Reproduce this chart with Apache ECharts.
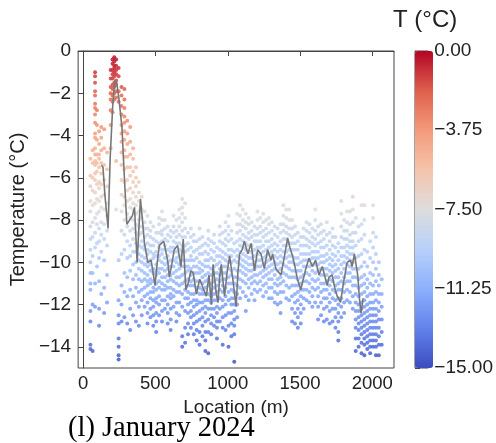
<!DOCTYPE html>
<html>
<head>
<meta charset="utf-8">
<script src="https://cdn.jsdelivr.net/npm/echarts@6/dist/echarts.min.js"></script>
<style>html,body{margin:0;padding:0;background:#fff;}#c{width:496px;height:443px;}</style>
</head>
<body>
<div id="c"></div>
<script>
// Measurement locations (m) of each column of scatter points
const locations = [50,65,82,95,110,125,145,165,190,203,215,228,245,265,285,305,325,345,365,385,405,425,
445,465,485,505,525,545,565,585,605,625,645,665,685,705,725,745,765,785,805,825,845,865,885,905,925,945,965,985,
1005,1025,1045,1065,1085,1105,1125,1145,1165,1185,1205,1225,1245,1265,1285,1305,1325,1345,1365,1385,1405,1425,
1445,1465,1485,1505,1525,1545,1565,1585,1605,1625,1645,1665,1685,1705,1725,1745,1765,1785,1805,1825,1845,1865,
1885,1905,1925,1945,1965,1985,2005,2025,2045,2065];
// Temperature readings (°C) at each location
const temps = [
[-5.1,-5.9,-6.4,-7.1,-7.6,-8.3,-8.9,-9.4,-10.0,-10.5,-11.0,-11.3,-12.3,-12.8,-13.9,-14.1],
[-4.7,-5.3,-6.0,-6.6,-7.3,-8.1,-8.8,-9.7,-10.5,-12.0,-14.2],
[-1.0,-1.2,-1.5,-1.9,-2.1,-2.5,-2.7,-3.0,-3.4,-3.9,-4.1,-4.6,-4.9,-5.2,-5.4,-5.8,-6.1,-6.7,-7.2,-7.9,-8.6,-9.3,-11.0,-12.1],
[-2.8,-3.5,-4.2,-4.9,-5.3,-5.7,-6.3,-7.0,-7.7,-8.2,-9.1,-10.2],
[-3.8,-4.4,-4.9,-5.1,-5.5,-6.2,-6.5,-7.1,-7.6,-8.4,-9.0,-9.8,-10.9,-12.2,-13.0],
[-3.6,-4.1,-4.7,-5.3,-5.8,-6.3,-6.9,-7.4,-8.1,-8.7,-9.5,-11.5],
[-3.7,-4.6,-5.4,-6.1,-6.8,-7.5,-8.2,-8.9,-9.9,-11.2,-12.4],
[-4.8,-5.6,-6.4,-7.2,-7.8,-8.5,-9.2,-10.6,-11.9],
[-0.9,-1.3,-1.7,-2.0,-2.3,-2.8,-3.5,-4.6],
[-0.4,-0.6,-0.9,-1.1,-1.3,-1.6,-1.8,-2.1,-2.4,-2.9],
[-0.3,-0.5,-0.7,-0.8,-1.0,-1.2,-1.5,-1.7,-2.0,-2.3],
[-0.4,-0.7,-0.9,-1.1,-1.4,-1.6,-1.9,-2.2,-5.2,-7.5],
[-0.8,-1.2,-1.9,-2.4,-9.9,-11.8,-12.5,-12.9,-13.6,-14.0,-14.4,-14.6],
[-1.7,-2.1,-2.6,-3.0,-3.5,-3.9,-4.3,-4.8,-5.4,-6.1,-6.8,-7.6,-8.5,-9.6,-11.1,-12.0,-12.8],
[-1.8,-2.3,-2.7,-3.1,-3.4,-3.8,-4.2,-4.7,-5.0,-5.6,-6.2,-6.9,-7.3,-8.0,-8.7,-9.4,-10.5,-11.4,-12.6],
[-3.3,-3.9,-4.4,-5.0,-5.5,-6.1,-6.6,-7.1,-7.7,-8.3,-9.0,-9.8,-10.7,-11.6,-12.9],
[-3.6,-4.3,-4.9,-5.5,-5.9,-6.5,-7.0,-7.4,-7.9,-8.5,-9.2,-9.7,-10.4,-11.3,-12.2,-13.2],
[-4.6,-5.1,-5.7,-6.2,-6.7,-7.2,-7.5,-8.0,-8.4,-8.9,-9.5,-10.1,-10.8,-11.6,-12.5],
[-5.5,-6.0,-6.4,-6.9,-7.3,-7.7,-8.2,-8.6,-9.1,-9.5,-10.0,-10.6,-11.2,-11.9,-12.8],
[-6.2,-6.7,-7.1,-7.6,-8.0,-8.3,-8.7,-9.2,-9.6,-9.9,-10.3,-10.8,-11.4,-12.1,-13.0],
[-6.9,-7.5,-7.9,-8.3,-8.6,-9.0,-9.3,-9.7,-10.0,-10.4,-10.9,-11.3,-11.8,-12.5],
[-7.6,-8.1,-8.4,-8.8,-9.2,-9.4,-9.8,-10.1,-10.5,-10.8,-11.2,-11.6,-12.1],
[-7.8,-8.4,-8.7,-9.1,-9.4,-9.6,-10.0,-10.2,-10.6,-10.9,-11.1,-11.5,-11.9,-12.4,-12.9],
[-8.1,-8.5,-8.8,-9.2,-9.5,-9.9,-10.1,-10.4,-10.8,-11.0,-11.4,-11.7,-12.2,-12.6],
[-8.3,-8.9,-9.2,-9.6,-9.8,-10.3,-10.5,-10.9,-11.2,-11.4,-11.8,-12.1,-12.5,-13.0],
[-8.6,-9.0,-9.5,-9.7,-10.1,-10.4,-10.6,-11.0,-11.3,-11.7,-11.9,-12.4,-12.8,-13.3],
[-7.9,-8.2,-8.6,-9.1,-9.3,-9.7,-9.9,-10.3,-10.5,-10.9,-11.2,-11.6,-12.0,-12.5],
[-7.6,-8.0,-8.5,-8.7,-9.0,-9.4,-9.6,-10.0,-10.3,-10.7,-11.0,-11.3,-11.8,-12.3,-12.8],
[-8.0,-8.4,-8.9,-9.2,-9.4,-9.8,-10.1,-10.4,-10.7,-11.1,-11.3,-11.8,-12.2],
[-8.3,-8.7,-9.0,-9.4,-9.7,-10.0,-10.3,-10.6,-10.9,-11.2,-11.6,-12.0,-12.4,-12.9],
[-8.5,-8.8,-9.3,-9.5,-9.9,-10.2,-10.6,-10.8,-11.2,-11.5,-11.7,-12.2,-12.7,-13.2],
[-7.8,-8.3,-8.6,-9.0,-9.3,-9.5,-9.9,-10.2,-10.5,-10.9,-11.3,-11.6,-12.1],
[-8.0,-8.5,-8.8,-9.1,-9.5,-9.8,-10.0,-10.4,-10.7,-11.0,-11.4,-11.9,-12.4,-12.8],
[-7.5,-7.9,-8.3,-8.7,-9.1,-9.4,-9.7,-10.1,-10.3,-10.7,-11.1,-11.4,-11.9,-12.5],
[-7.0,-7.4,-7.7,-8.1,-8.5,-8.8,-9.2,-9.5,-9.9,-10.2,-10.6,-11.0,-11.5,-12.1,-13.5,-14.0],
[-7.2,-7.9,-8.4,-8.8,-9.2,-9.5,-9.9,-10.2,-10.5,-10.9,-11.3,-11.7,-12.3,-13.1,-13.8],
[-8.6,-9.1,-9.4,-9.9,-10.2,-10.4,-10.8,-11.1,-11.4,-11.7,-12.0,-12.4,-12.9,-13.4],
[-8.4,-8.8,-9.3,-9.7,-9.9,-10.3,-10.6,-10.9,-11.1,-11.5,-11.9,-12.3,-12.6,-13.1],
[-8.7,-9.0,-9.5,-9.9,-10.2,-10.5,-10.8,-11.1,-11.5,-11.8,-12.1,-12.5,-12.9,-13.4],
[-9.0,-9.4,-9.8,-10.2,-10.5,-10.9,-11.2,-11.4,-11.8,-12.0,-12.4,-12.8,-13.2,-13.7],
[-8.4,-8.9,-9.3,-9.6,-10.0,-10.3,-10.5,-10.9,-11.2,-11.5,-11.9,-12.3,-12.7,-13.3,-13.9],
[-8.8,-9.2,-9.6,-10.1,-10.4,-10.7,-11.0,-11.3,-11.5,-11.9,-12.2,-12.6,-13.0,-13.5],
[-9.1,-9.5,-9.9,-10.2,-10.6,-10.9,-11.2,-11.5,-11.8,-12.1,-12.4,-12.8,-13.3,-13.7,-14.2],
[-8.5,-8.9,-9.2,-9.6,-9.9,-10.2,-10.5,-10.8,-11.1,-11.5,-11.8,-12.2,-12.7,-13.3,-14.3],
[-9.0,-9.4,-9.8,-10.3,-10.6,-11.0,-11.3,-11.6,-11.9,-12.2,-12.5,-12.9,-13.4],
[-8.7,-9.1,-9.5,-9.9,-10.2,-10.5,-10.9,-11.2,-11.5,-11.8,-12.2,-12.6,-13.0],
[-9.3,-9.7,-10.1,-10.5,-10.8,-11.1,-11.4,-11.8,-12.1,-12.4,-12.8,-13.1,-13.6],
[-8.3,-8.7,-9.0,-9.4,-9.7,-10.0,-10.3,-10.6,-10.9,-11.3,-11.7,-12.2,-12.8],
[-8.6,-9.1,-9.5,-9.8,-10.2,-10.5,-10.8,-11.1,-11.4,-11.8,-12.1,-12.6,-13.1,-13.9],
[-8.1,-8.5,-8.9,-9.2,-9.6,-9.9,-10.2,-10.5,-10.8,-11.2,-11.6,-12.0,-12.5,-13.2],
[-7.8,-8.3,-8.7,-9.0,-9.4,-9.7,-10.0,-10.3,-10.7,-11.0,-11.4,-11.8,-12.4,-13.0,-14.0],
[-8.5,-8.9,-9.4,-9.7,-10.0,-10.4,-10.6,-11.0,-11.3,-11.7,-12.0,-12.4,-12.9,-13.5],
[-9.1,-9.5,-9.9,-10.3,-10.7,-11.0,-11.4,-11.7,-12.0,-12.3,-12.7,-13.0,-13.4,-14.7],
[-7.7,-8.2,-8.6,-9.0,-9.4,-9.7,-10.0,-10.4,-10.7,-11.1,-11.5,-12.0,-12.6],
[-7.3,-7.8,-8.2,-8.5,-8.9,-9.2,-9.5,-9.8,-10.1,-10.4,-10.8,-11.2,-11.7],
[-7.5,-8.0,-8.3,-8.7,-9.0,-9.3,-9.6,-9.9,-10.2,-10.5,-10.9,-11.4],
[-7.7,-8.1,-8.4,-8.8,-9.1,-9.4,-9.7,-10.0,-10.3,-10.6,-11.0,-11.6,-12.3],
[-7.9,-8.2,-8.6,-8.9,-9.2,-9.5,-9.8,-10.1,-10.4,-10.8,-11.2,-11.8],
[-8.1,-8.5,-8.8,-9.2,-9.5,-9.8,-10.1,-10.4,-10.7,-11.0,-11.5],
[-8.3,-8.7,-9.0,-9.4,-9.7,-10.0,-10.3,-10.6,-10.9,-11.3,-11.8],
[-7.6,-8.0,-8.4,-8.7,-9.0,-9.3,-9.6,-9.9,-10.2,-10.6,-11.0,-11.4],
[-7.9,-8.3,-8.6,-9.0,-9.3,-9.6,-9.9,-10.2,-10.5,-10.9,-11.3],
[-7.7,-8.1,-8.5,-8.8,-9.2,-9.5,-9.8,-10.1,-10.4,-10.7,-11.1,-11.6],
[-8.0,-8.4,-8.7,-9.0,-9.4,-9.7,-10.0,-10.3,-10.6,-11.0,-11.4],
[-7.9,-8.2,-8.6,-9.0,-9.3,-9.6,-9.9,-10.2,-10.5,-10.8,-11.2,-11.7],
[-8.1,-8.5,-8.9,-9.2,-9.5,-9.8,-10.1,-10.4,-10.8,-11.2,-11.7],
[-8.3,-8.7,-9.1,-9.4,-9.7,-10.0,-10.3,-10.6,-11.0,-11.4,-11.9],
[-8.4,-8.8,-9.2,-9.5,-9.8,-10.1,-10.4,-10.8,-11.1,-11.5,-12.0],
[-8.2,-8.6,-9.0,-9.4,-9.7,-10.0,-10.3,-10.7,-11.0,-11.4,-11.9,-12.4],
[-7.3,-7.8,-8.2,-8.5,-8.9,-9.2,-9.5,-9.8,-10.1,-10.5,-10.9,-11.4],
[-7.5,-7.9,-8.3,-8.6,-8.9,-9.2,-9.5,-9.8,-10.2,-10.6,-11.1,-11.7],
[-7.5,-8.0,-8.4,-8.7,-9.1,-9.4,-9.7,-10.0,-10.3,-10.7,-11.2,-11.8],
[-8.0,-8.4,-8.8,-9.1,-9.4,-9.7,-10.0,-10.4,-10.7,-11.1,-11.6,-12.2,-12.8],
[-8.3,-8.7,-9.1,-9.4,-9.8,-10.1,-10.4,-10.7,-11.1,-11.5,-11.9,-12.4,-12.9],
[-8.6,-9.0,-9.4,-9.8,-10.1,-10.4,-10.8,-11.1,-11.4,-11.8,-12.2,-12.6,-13.1],
[-8.8,-9.2,-9.6,-10.0,-10.4,-10.7,-11.0,-11.3,-11.6,-12.0,-12.4,-12.9],
[-8.4,-8.8,-9.2,-9.6,-9.9,-10.2,-10.6,-10.9,-11.3,-11.7,-12.2],
[-8.1,-8.5,-8.9,-9.2,-9.6,-9.9,-10.2,-10.5,-10.9,-11.3,-11.8],
[-8.2,-8.6,-9.0,-9.3,-9.6,-9.9,-10.2,-10.6,-11.0,-11.4,-11.9],
[-8.4,-8.8,-9.1,-9.5,-9.8,-10.1,-10.4,-10.8,-11.2,-11.6,-12.1],
[-7.5,-8.0,-8.5,-8.9,-9.2,-9.5,-9.8,-10.1,-10.5,-10.9,-11.3,-11.9],
[-8.3,-8.7,-9.1,-9.5,-9.8,-10.1,-10.4,-10.8,-11.2,-11.6,-12.1,-12.7],
[-8.2,-8.6,-9.0,-9.3,-9.7,-10.0,-10.3,-10.6,-11.0,-11.4,-11.9,-12.5],
[-8.5,-8.9,-9.3,-9.7,-10.0,-10.3,-10.6,-11.0,-11.3,-11.7,-12.2,-12.8],
[-8.1,-8.7,-9.2,-9.6,-9.9,-10.3,-10.6,-10.9,-11.3,-11.7,-12.1,-12.7],
[-8.6,-9.0,-9.4,-9.8,-10.1,-10.4,-10.8,-11.1,-11.5,-11.9,-12.3,-12.9],
[-8.4,-8.8,-9.2,-9.6,-9.9,-10.2,-10.5,-10.9,-11.3,-11.7,-12.2,-12.8],
[-8.8,-9.3,-9.7,-10.1,-10.4,-10.7,-11.1,-11.4,-11.8,-12.2,-12.6,-13.1],
[-9.1,-9.5,-9.9,-10.3,-10.7,-11.0,-11.3,-11.7,-12.0,-12.4,-12.8,-13.3,-13.7],
[-7.1,-7.7,-8.3,-8.8,-9.3,-9.7,-10.1,-10.5,-10.9,-11.3,-11.7,-12.1,-12.6],
[-8.0,-8.5,-8.9,-9.3,-9.7,-10.0,-10.3,-10.7,-11.0,-11.4,-11.9,-12.4],
[-7.6,-8.1,-8.5,-8.9,-9.2,-9.5,-9.8,-10.1,-10.5,-10.9,-11.3,-11.8],
[-7.6,-8.2,-8.7,-9.0,-9.3,-9.6,-9.9,-10.2,-10.5,-10.9,-11.4,-11.9],
[-6.9,-7.5,-8.1,-8.6,-9.0,-9.3,-9.6,-10.0,-10.3,-10.7,-11.1,-11.6,-12.2],
[-7.9,-8.6,-9.2,-9.8,-10.3,-10.7,-11.1,-11.5,-11.9,-12.3,-12.7,-13.1,-13.6,-14.2],
[-8.3,-9.0,-9.7,-10.3,-10.8,-11.2,-11.6,-12.0,-12.3,-12.6,-12.9,-13.2,-13.6,-14.0],
[-7.3,-8.2,-8.9,-9.6,-10.2,-10.7,-11.1,-11.5,-11.9,-12.2,-12.5,-12.8,-13.1,-13.4,-13.8,-14.3],
[-7.3,-8.0,-8.7,-9.4,-10.0,-10.6,-11.0,-11.4,-11.8,-12.1,-12.4,-12.7,-13.0,-13.3,-13.6,-13.9,-14.4],
[-9.5,-10.2,-10.8,-11.2,-11.6,-12.0,-12.3,-12.6,-12.9,-13.2,-13.5,-13.8,-14.1],
[-9.0,-9.8,-10.5,-11.0,-11.5,-11.9,-12.2,-12.5,-12.8,-13.1,-13.4,-13.7,-14.0,-14.3],
[-7.3,-7.9,-8.6,-9.3,-10.0,-10.6,-11.1,-11.5,-11.9,-12.2,-12.5,-12.8,-13.1,-13.4,-13.7,-14.0],
[-8.8,-9.6,-10.3,-10.9,-11.4,-11.8,-12.2,-12.5,-12.8,-13.1,-13.4,-13.7,-14.0,-14.4],
[-10.0,-10.6,-11.1,-11.5,-11.9,-12.3,-12.7,-13.1,-13.5,-13.9,-14.4],
[-10.8,-11.5,-12.1,-12.7,-13.3,-13.9]
];
// Mean temperature profile (grey line)
const meanLoc = [126,137,150,172,187,205,218,232,248,268,285,302,309,340,355,373,396,410,424,447,470,497,512,527,557,584,596,615,630,653,676,692,710,726,745,761,783,806,818,840,852,870,887,898,921,933,944,955,978,995,1013,1035,1058,1070,1082,1100,1115,1139,1162,1185,1207,1230,1253,1276,1299,1310,1333,1368,1390,1414,1430,1448,1465,1482,1505,1540,1562,1585,1608,1631,1654,1688,1700,1722,1740,1757,1780,1800,1826,1849,1860,1876,1899,1912,1922,1936];
const meanTemp = [-5.4,-5.5,-6.8,-8.4,-5.0,-2.5,-1.4,-1.5,-2.3,-3.6,-6.0,-8.2,-8.2,-7.8,-7.4,-10.0,-7.0,-8.0,-9.1,-10.0,-9.9,-11.1,-10.0,-9.2,-9.0,-9.9,-10.7,-10.0,-9.4,-9.2,-10.2,-8.9,-11.3,-11.0,-10.4,-10.5,-11.5,-10.8,-10.8,-11.4,-11.6,-10.6,-12.0,-10.1,-11.5,-11.9,-10.7,-10.1,-11.6,-10.5,-9.7,-10.8,-12.1,-10.5,-9.6,-9.4,-9.0,-9.6,-9.1,-10.4,-9.4,-9.6,-10.3,-9.4,-9.9,-9.6,-10.3,-10.6,-9.8,-8.85,-9.3,-9.7,-10.2,-10.8,-11.3,-10.3,-9.8,-10.2,-9.9,-10.6,-10.2,-11.1,-10.7,-10.6,-11.2,-11.6,-11.9,-11.0,-10.0,-9.9,-10.2,-9.6,-10.6,-11.8,-12.4,-11.7];
const yTicks = [0,-2,-4,-6,-8,-10,-12,-14];
const xTicks = [0,500,1000,1500,2000];
const coolwarm = ['#3b4cc0','#6282ea','#8db0fe','#b8d0f9','#dddddd','#f5c4ac','#f49a7b','#de604d','#b40426'];

const scatterData = [];
locations.forEach((x, i) => temps[i].forEach(t => scatterData.push([x, t])));
const lineData = meanLoc.map((x, i) => [x, meanTemp[i]]);
const fmtMinus = v => String(v).replace('-', '\u2212');
const FONT = 'Liberation Sans';

const chart = echarts.init(document.getElementById('c'), null, {renderer: 'canvas'});
chart.setOption({
  animation: false,
  backgroundColor: '#fff',
  textStyle: {fontFamily: FONT},
  title: [
    {text: '(l) January 2024', left: 68, top: 414, padding: 0,
     textStyle: {fontFamily: 'Liberation Serif', fontSize: 28.5, fontWeight: 'normal', color: '#000'}},
    {text: 'T (\u00B0C)', left: 393, top: 8, padding: 0,
     textStyle: {fontFamily: FONT, fontSize: 24, fontWeight: 'normal', color: '#222'}}
  ],
  grid: [
    {left: 76, top: 51, width: 318, height: 317, show: true, borderColor: '#444', borderWidth: 1, containLabel: false},
    {left: 415, top: 51, width: 18, height: 317, show: true, borderColor: '#444', borderWidth: 1, containLabel: false}
  ],
  xAxis: [
    {type: 'value', gridIndex: 0, min: -35, max: 2150,
     name: 'Location (m)', nameLocation: 'middle', nameGap: 27,
     nameTextStyle: {fontFamily: FONT, fontSize: 19, color: '#222'},
     axisLine: {show: true, lineStyle: {color: '#444'}},
     axisTick: {show: true, length: 5, customValues: xTicks, lineStyle: {color: '#444'}},
     axisLabel: {fontSize: 18.5, color: '#222', margin: 6, customValues: xTicks, formatter: fmtMinus},
     splitLine: {show: false}},
    {type: 'value', gridIndex: 1, min: 0, max: 1, show: false}
  ],
  yAxis: [
    {type: 'value', gridIndex: 0, min: -15, max: 0,
     name: 'Temperature (\u00B0C)', nameLocation: 'middle', nameGap: 43,
     nameTextStyle: {fontFamily: FONT, fontSize: 20, color: '#222'},
     axisLine: {show: true, lineStyle: {color: '#444'}},
     axisTick: {show: true, length: 5, customValues: yTicks, lineStyle: {color: '#444'}},
     axisLabel: {fontSize: 19, color: '#222', margin: 7, customValues: yTicks, formatter: fmtMinus},
     splitLine: {show: false}},
    {type: 'value', gridIndex: 1, min: -15, max: 0, interval: 3.75, position: 'right',
     axisLine: {show: false},
     axisTick: {show: true, length: 5, lineStyle: {color: '#444'}},
     axisLabel: {fontSize: 19, color: '#222', margin: 6, formatter: v => fmtMinus(v.toFixed(2))},
     splitLine: {show: false}}
  ],
  visualMap: {
    type: 'continuous', min: -15, max: 0, dimension: 1, seriesIndex: 0,
    calculable: false, hoverLink: false, realtime: false,
    left: 415, top: 51, itemWidth: 18, itemHeight: 317, padding: 0,
    text: null, showLabel: false,
    inRange: {color: coolwarm}
  },
  series: [
    {type: 'scatter', xAxisIndex: 0, yAxisIndex: 0, data: scatterData,
     symbolSize: 4, itemStyle: {opacity: 0.85}, silent: true, z: 2},
    {type: 'line', xAxisIndex: 0, yAxisIndex: 0, data: lineData,
     symbol: 'none', lineStyle: {color: '#777', width: 1.6}, silent: true, z: 3},
    {type: 'scatter', xAxisIndex: 1, yAxisIndex: 1, data: [], silent: true}
  ]
});
</script>
</body>
</html>
